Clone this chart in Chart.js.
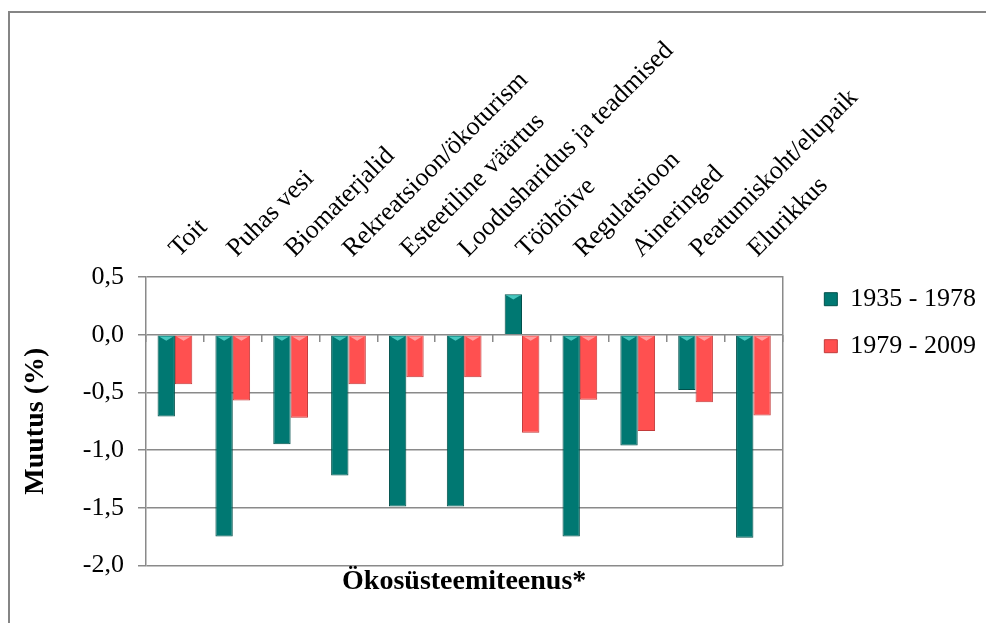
<!DOCTYPE html>
<html>
<head>
<meta charset="utf-8">
<script src="https://cdn.jsdelivr.net/npm/chart.js@4.4.1/dist/chart.umd.min.js"></script>
<style>
  html, body { margin: 0; padding: 0; background: #ffffff; overflow: hidden; }
  #wrap { position: relative; width: 986px; height: 623px; }
</style>
</head>
<body>
<div id="wrap"><canvas id="c"></canvas></div>
<script>
const categories = ["Toit", "Puhas vesi", "Biomaterjalid", "Rekreatsioon/ökoturism", "Esteetiline väärtus",
  "Loodusharidus ja teadmised", "Tööhõive", "Regulatsioon", "Aineringed", "Peatumiskoht/elupaik", "Elurikkus"];
const seriesNames = ["1935 - 1978", "1979 - 2009"];
const values1935 = [-0.71, -1.75, -0.95, -1.22, -1.49, -1.49, 0.35, -1.75, -0.96, -0.48, -1.76];
const values1979 = [-0.43, -0.57, -0.72, -0.43, -0.37, -0.37, -0.85, -0.565, -0.835, -0.585, -0.70];
const yTicks = { min: -2.0, max: 0.5, step: 0.5 };
const axisTitleY = "Muutus (%)";
const axisTitleX = "Ökosüsteemiteenus*";

Chart.defaults.font.family = "'Liberation Serif', 'Times New Roman', serif";
Chart.defaults.color = "#000000";

const GRID = "#8a8a8a";

const framePlugin = {
  id: 'frame',
  afterDraw(chart) {
    const ctx = chart.ctx;
    ctx.save();
    ctx.strokeStyle = "#858585";
    ctx.lineWidth = 2;
    ctx.beginPath();
    ctx.moveTo(9, chart.height + 2);
    ctx.lineTo(9, 12);
    ctx.lineTo(chart.width + 2, 12);
    ctx.stroke();
    ctx.restore();
  }
};

const bevelPlugin = {
  id: 'bevel',
  afterDatasetsDraw(chart) {
    const ctx = chart.ctx;
    const lights = ["#46c7bf", "#ff9e9e"];
    chart.data.datasets.forEach((ds, di) => {
      const meta = chart.getDatasetMeta(di);
      meta.data.forEach(el => {
        const p = el.getProps(['x', 'y', 'base', 'width'], true);
        const top = Math.min(p.y, p.base);
        const l = p.x - p.width / 2 + 1.5, r = p.x + p.width / 2 - 1.5;
        ctx.save();
        ctx.fillStyle = lights[di];
        ctx.beginPath();
        ctx.moveTo(l, top + 1);
        ctx.lineTo(r, top + 1);
        ctx.lineTo(p.x, top + p.width * 0.3);
        ctx.closePath();
        ctx.fill();
        ctx.restore();
      });
    });
  }
};

new Chart(document.getElementById('c'), {
  type: 'bar',
  data: {
    labels: categories,
    datasets: [
      { label: seriesNames[0], data: values1935, backgroundColor: "#007872", borderColor: "#00504b", borderWidth: 1,
        categoryPercentage: 0.6, barPercentage: 1.0 },
      { label: seriesNames[1], data: values1979, backgroundColor: "#ff5050", borderColor: "#c23a3a", borderWidth: 1,
        categoryPercentage: 0.6, barPercentage: 1.0 }
    ]
  },
  options: {
    responsive: true,
    maintainAspectRatio: false,
    animation: false,
    layout: { padding: 0 },
    scales: {
      x: {
        position: 'top',
        grid: { display: false, drawTicks: false },
        border: { display: false },
        ticks: { minRotation: 45, maxRotation: 45, autoSkip: false, padding: 13, labelOffset: 21,
                 font: { size: 26 }, color: "#000" },
        afterFit: s => { s.height = 277; }
      },
      x2: {
        type: 'category',
        position: { y: 0 },
        offset: true,
        grid: { offset: true, drawOnChartArea: false, drawTicks: true, tickLength: 7, color: GRID, lineWidth: 1.5 },
        border: { display: false },
        ticks: { display: false },
        afterFit: s => { s.height = 0; }
      },
      y: {
        min: yTicks.min, max: yTicks.max,
        ticks: { stepSize: yTicks.step, padding: 14, font: { size: 26 }, color: "#000",
                 callback: v => Number(v).toFixed(1).replace('.', ',') },
        grid: { color: GRID, lineWidth: 1.5, tickLength: 8, drawTicks: true },
        border: { display: true, color: GRID, width: 1.5 },
        title: { display: true, text: axisTitleY, font: { size: 28, weight: 'bold' }, color: "#000",
                 padding: { top: 19, bottom: 0 } },
        afterFit: s => { s.width = 146; }
      },
      y2: {
        position: 'right',
        min: 0, max: 1,
        grid: { drawOnChartArea: false, drawTicks: false },
        border: { display: true, color: GRID, width: 1.5 },
        ticks: { display: false },
        afterFit: s => { s.width = 21; }
      }
    },
    plugins: {
      legend: {
        position: 'right', align: 'start', fullSize: true, maxWidth: 183,
        title: { display: true, text: ' ', font: { size: 1 }, padding: { top: 264, bottom: 0 } },
        labels: { boxWidth: 13, boxHeight: 13, padding: 21, color: "#000", font: { size: 26 } }
      },
      title: {
        display: true, position: 'bottom', fullSize: false, text: axisTitleX,
        font: { size: 28, weight: 'bold' }, color: "#000", padding: { top: 0, bottom: 24 }
      },
      tooltip: { enabled: false }
    }
  },
  plugins: [framePlugin, bevelPlugin]
});
</script>
</body>
</html>
